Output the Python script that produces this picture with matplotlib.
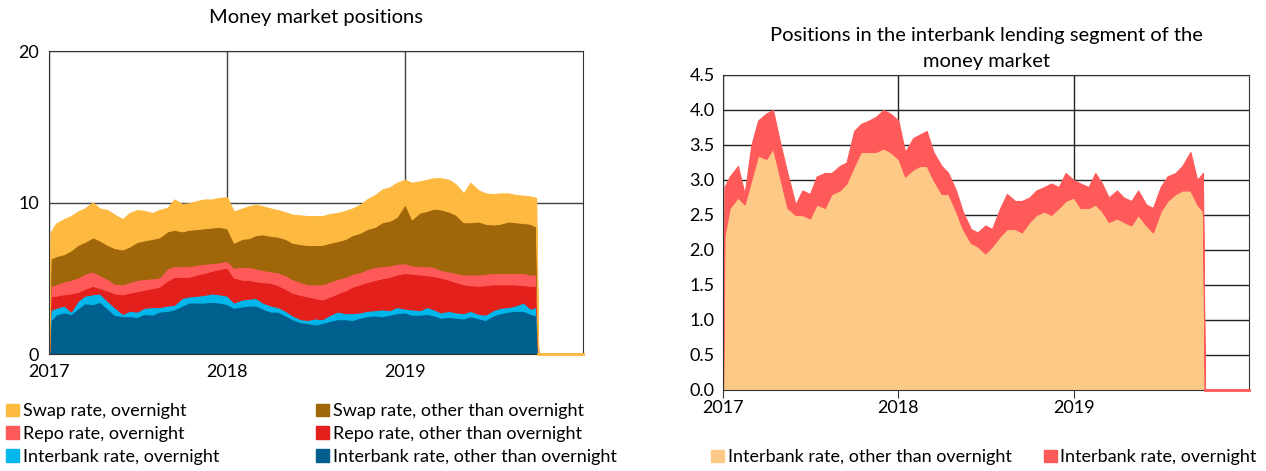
import numpy as np
import pandas as pd
import matplotlib
matplotlib.use('Agg')
import matplotlib.pyplot as plt
from matplotlib.patches import Patch

plt.rcParams['font.family'] = ['Lato', 'DejaVu Sans']

# semi-monthly readings, Jan 2017 - Sep 2019
dates = list(pd.date_range('2017-01-01', periods=66, freq='SMS')) + [pd.Timestamp('2019-09-27')]
dates[0] = pd.Timestamp('2017-01-04')

interbank_other = [2.2, 2.6, 2.75, 2.65, 3.0, 3.35, 3.3, 3.45, 3.0, 2.6,
                   2.5, 2.5, 2.45, 2.65, 2.6, 2.8, 2.85, 2.95, 3.2, 3.4,
                   3.4, 3.4, 3.45, 3.4, 3.3, 3.05, 3.15, 3.2, 3.2, 3.0,
                   2.8, 2.8, 2.55, 2.3, 2.1, 2.05, 1.95, 2.05, 2.2, 2.3,
                   2.3, 2.25, 2.4, 2.5, 2.55, 2.5, 2.6, 2.7, 2.75, 2.6,
                   2.6, 2.65, 2.55, 2.4, 2.45, 2.4, 2.35, 2.5, 2.35, 2.25,
                   2.55, 2.7, 2.8, 2.85, 2.85, 2.65, 2.55]
interbank_on = [0.7, 0.45, 0.45, 0.15, 0.5, 0.5, 0.65, 0.55, 0.5, 0.5,
                0.15, 0.35, 0.35, 0.4, 0.5, 0.3, 0.35, 0.3, 0.5, 0.4,
                0.45, 0.5, 0.55, 0.55, 0.55, 0.35, 0.45, 0.45, 0.5, 0.4,
                0.4, 0.3, 0.3, 0.25, 0.2, 0.2, 0.4, 0.25, 0.4, 0.5,
                0.4, 0.45, 0.35, 0.35, 0.35, 0.45, 0.3, 0.4, 0.25, 0.35,
                0.3, 0.45, 0.4, 0.35, 0.4, 0.35, 0.35, 0.35, 0.3, 0.35,
                0.35, 0.35, 0.3, 0.35, 0.55, 0.35, 0.55]
repo_other = [0.9, 0.8, 0.75, 1.2, 0.6, 0.45, 0.55, 0.35, 0.7, 0.9,
              1.3, 1.2, 1.35, 1.2, 1.25, 1.35, 1.65, 1.85, 1.4, 1.3,
              1.4, 1.45, 1.5, 1.65, 1.85, 1.65, 1.3, 1.25, 1.1, 1.35,
              1.5, 1.45, 1.45, 1.5, 1.6, 1.55, 1.35, 1.3, 1.2, 1.2,
              1.5, 1.75, 1.85, 1.9, 2.0, 2.05, 2.2, 2.15, 2.35, 2.35,
              2.35, 2.1, 2.2, 2.3, 2.05, 2.0, 1.9, 1.7, 1.85, 1.95,
              1.7, 1.55, 1.5, 1.4, 1.15, 1.5, 1.4]
repo_on = [0.7, 0.75, 0.85, 0.9, 0.95, 1.0, 0.95, 0.85, 0.75, 0.65,
           0.65, 0.7, 0.75, 0.7, 0.65, 0.6, 0.8, 0.7, 0.7, 0.7,
           0.65, 0.6, 0.5, 0.45, 0.45, 0.65, 0.85, 0.85, 0.85, 0.8,
           0.75, 0.85, 0.9, 0.9, 0.85, 0.8, 0.9, 1.0, 1.0, 0.95,
           0.9, 0.85, 0.8, 0.85, 0.85, 0.8, 0.75, 0.7, 0.65, 0.55,
           0.55, 0.6, 0.6, 0.5, 0.55, 0.6, 0.65, 0.7, 0.75, 0.75,
           0.75, 0.75, 0.75, 0.75, 0.8, 0.75, 0.75]
swap_other = [1.8, 1.85, 1.8, 1.95, 2.15, 2.1, 2.25, 2.3, 2.25, 2.35,
              2.3, 2.35, 2.5, 2.55, 2.6, 2.65, 2.45, 2.4, 2.3, 2.4,
              2.35, 2.35, 2.35, 2.35, 2.15, 1.65, 1.85, 1.9, 2.2, 2.35,
              2.35, 2.35, 2.4, 2.4, 2.5, 2.6, 2.6, 2.6, 2.55, 2.5,
              2.5, 2.55, 2.6, 2.65, 2.65, 2.9, 2.95, 3.1, 3.9, 3.05,
              3.55, 3.65, 3.85, 4.0, 3.95, 3.85, 3.45, 3.45, 3.5, 3.3,
              3.2, 3.25, 3.4, 3.35, 3.3, 3.35, 3.15]
swap_on = [1.7, 2.15, 2.3, 2.25, 2.2, 2.2, 2.3, 2.1, 2.3, 2.2,
           2.0, 2.2, 2.1, 1.95, 1.7, 1.8, 1.55, 2.0, 1.8, 1.75,
           1.85, 1.9, 1.85, 1.9, 2.05, 2.05, 2.0, 2.1, 2.0, 1.85,
           1.8, 1.75, 1.75, 1.85, 1.9, 1.9, 1.9, 1.9, 1.9, 1.85,
           1.85, 1.75, 1.85, 1.95, 2.1, 2.15, 2.2, 2.25, 1.6, 2.4,
           2.05, 2.05, 2.0, 2.05, 2.1, 2.0, 1.9, 2.6, 2.05, 2.0,
           2.0, 2.0, 1.85, 1.8, 1.8, 1.8, 1.9]

# zero before the first reading and after the last one
x = [pd.Timestamp('2017-01-01')] + dates + [pd.Timestamp('2019-10-01'), pd.Timestamp('2019-12-31')]
def pad(v):
    return np.concatenate([[0], v, [0, 0]])

c_swap_on, c_swap_other = '#FDB940', '#A0660A'
c_repo_on, c_repo_other = '#FF5A5A', '#E3201B'
c_ib_on, c_ib_other = '#00B6EB', '#005F8C'
c_ib_light = '#FDC987'

fs = 13
fs_title = 14.5
fig = plt.figure(figsize=(12.66, 4.71), dpi=100)
ax1 = fig.add_axes([0.0387, 0.2484, 0.4218, 0.6433])
ax2 = fig.add_axes([0.5711, 0.172, 0.4155, 0.6688])
years = [pd.Timestamp(f'{y}-01-01') for y in (2017, 2018, 2019)]

# left: money market positions
ax1.stackplot(x, pad(interbank_other), pad(interbank_on), pad(repo_other), pad(repo_on),
              pad(swap_other), pad(swap_on),
              colors=[c_ib_other, c_ib_on, c_repo_other, c_repo_on, c_swap_other, c_swap_on],
              edgecolor='face', linewidth=0.8, zorder=2)
ax1.plot(x[-2:], pad(swap_on)[-2:], color=c_swap_on, lw=2, zorder=3, clip_on=False)
ax1.set_xlim(pd.Timestamp('2017-01-01'), pd.Timestamp('2020-01-01'))
ax1.set_ylim(0, 20)
ax1.set_yticks([0, 10, 20])
ax1.set_xticks(years)
ax1.set_xticklabels(['2017', '2018', '2019'])
ax1.grid(True, color='#404040', linewidth=1, zorder=0)
ax1.set_axisbelow(True)
ax1.tick_params(length=0, labelsize=fs, pad=7)
for s in ax1.spines.values():
    s.set_color('#333333')
ax1.set_title('Money market positions', fontsize=fs_title, pad=20)

# right: interbank lending segment
ax2.stackplot(x, pad(interbank_other), pad(interbank_on),
              colors=[c_ib_light, c_repo_on], edgecolor='face', linewidth=0.8, zorder=2)
ax2.plot(x[-2:], pad(interbank_on)[-2:], color=c_repo_on, lw=2, zorder=3, clip_on=False)
ax2.set_xlim(pd.Timestamp('2017-01-01'), pd.Timestamp('2020-01-01'))
ax2.set_ylim(0, 4.5)
ax2.set_yticks(np.arange(0, 4.51, 0.5))
ax2.yaxis.set_major_formatter(matplotlib.ticker.FormatStrFormatter('%.1f'))
ax2.set_xticks(years)
ax2.set_xticklabels(['2017', '2018', '2019'])
ax2.grid(True, color='#222222', linewidth=1, zorder=0)
ax2.set_axisbelow(True)
ax2.tick_params(axis='y', length=0, labelsize=fs, pad=6)
ax2.tick_params(axis='x', length=6, labelsize=fs, pad=1, color='#333333')
for s in ax2.spines.values():
    s.set_color('#333333')
ax2.set_title('Positions in the interbank lending segment of the\nmoney market',
              fontsize=fs_title, pad=6, linespacing=1.6)

# legends
h_left = [Patch(color=c_swap_on), Patch(color=c_repo_on), Patch(color=c_ib_on),
          Patch(color=c_swap_other), Patch(color=c_repo_other), Patch(color=c_ib_other)]
l_left = ['Swap rate, overnight', 'Repo rate, overnight', 'Interbank rate, overnight',
          'Swap rate, other than overnight', 'Repo rate, other than overnight',
          'Interbank rate, other than overnight']
fig.legend(h_left, l_left, ncol=2, loc='upper left', bbox_to_anchor=(0.005, 0.144),
           frameon=False, fontsize=fs, handlelength=0.7, handleheight=0.7,
           handletextpad=0.2, labelspacing=0.38, columnspacing=5.4, borderaxespad=0,
           borderpad=0)

fig.legend([Patch(color=c_ib_light), Patch(color=c_repo_on)],
           ['Interbank rate, other than overnight', 'Interbank rate, overnight'],
           ncol=2, loc='upper left', bbox_to_anchor=(0.562, 0.046), frameon=False,
           fontsize=fs, handlelength=0.7, handleheight=0.7, handletextpad=0.2,
           columnspacing=1.8, borderaxespad=0, borderpad=0)

fig.savefig('out.png', dpi=100)
